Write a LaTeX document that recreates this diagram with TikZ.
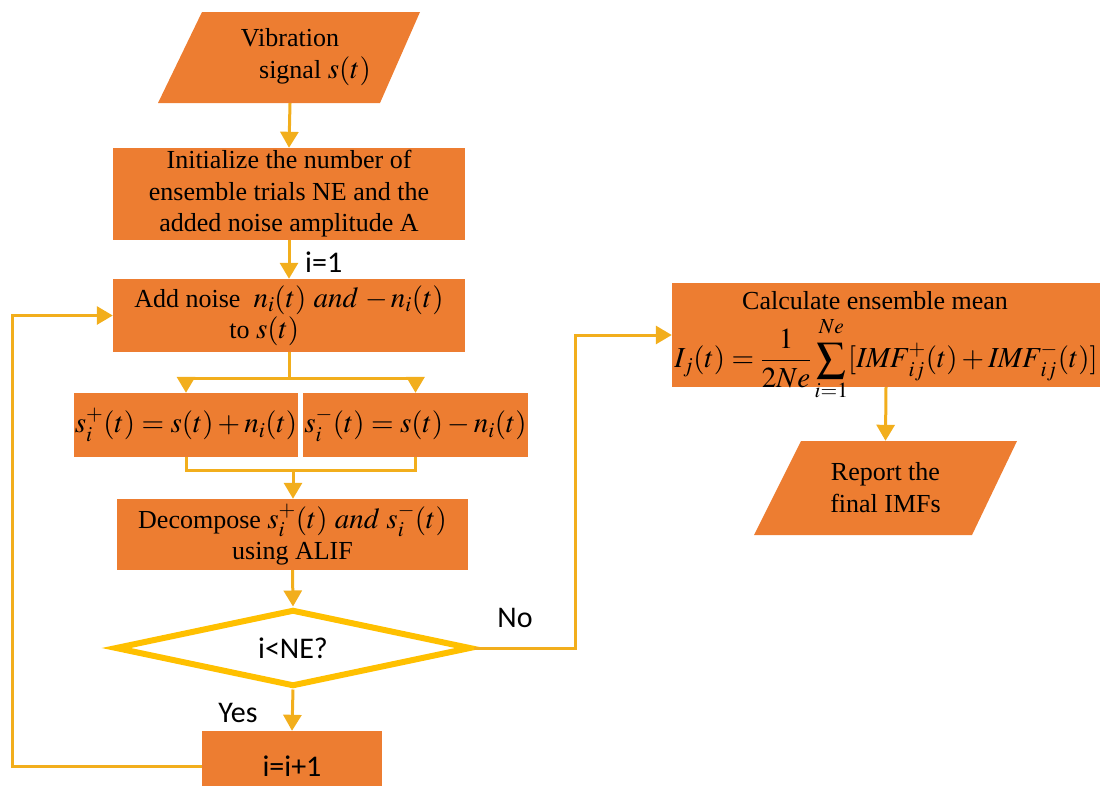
\documentclass[tikz,border=0pt]{standalone}
\usepackage{mathptmx}
\usepackage{fontspec}
\setmainfont{Liberation Serif}
\newfontfamily\labfont{Carlito}
\usetikzlibrary{arrows.meta,shapes.geometric}
\definecolor{boxorange}{HTML}{ED7D31}
\definecolor{lineorange}{HTML}{F2AE1C}
\definecolor{diagold}{HTML}{FFC000}
\newcommand\mth[1]{{\fontsize{29}{31}\selectfont$#1$}}
\begin{document}
\begin{tikzpicture}[x=1pt,y=-1pt,
  conn/.style={draw=lineorange, line width=3pt},
  arr/.style={conn, -{Triangle[width=18pt,length=16pt]}},
  box/.style={fill=boxorange, inner sep=0pt, align=center, font=\fontsize{26}{31.5}\selectfont},
  iotext/.style={inner sep=0pt, align=center, font=\fontsize{26}{32}\selectfont},
  txt/.style={inner sep=0pt, align=center, font=\fontsize{26}{31.5}\selectfont},
  lbl/.style={font=\labfont\fontsize{30}{36}\selectfont, inner sep=0pt},
  decision/.style={diamond, aspect=4.6, draw=diagold, line width=6pt, fill=white, inner sep=0pt,
    font=\labfont\fontsize{30}{36}\selectfont}
]
\useasboundingbox (0,0) rectangle (1101,785);

% input parallelogram
\fill[boxorange] (202,12) -- (420,12) -- (380,103) -- (158,103) -- cycle;
\node[iotext, minimum width=262pt, minimum height=91pt] (in) at (290,57.5)
  {Vibration\\\hspace*{50pt}signal \mth{s(t)}};

\node[box, minimum width=352pt, minimum height=92pt] (init) at (289,194)
  {Initialize the number of\\ensemble trials NE and the\\added noise amplitude A};

\node[box, minimum width=352pt, minimum height=73pt, align=left] (add) at (289,315.5)
  {Add noise \ \mth{n_i(t)\ \mathit{and}\ {-}\,n_i(t)}\\\hspace*{95pt}to \mth{s(t)}};

\node[box, minimum width=224pt, minimum height=64pt] (left) at (186,425)
  {\mth{s_i^{+}(t)=s(t)+n_i(t)}};
\node[box, minimum width=225pt, minimum height=64pt] (right) at (415.5,425)
  {\mth{s_i^{-}(t)=s(t)-n_i(t)}};

\node[box, minimum width=351pt, minimum height=71pt] (decomp) at (292.5,534.5)
  {Decompose \mth{s_i^{+}(t)\ \mathit{and}\ s_i^{-}(t)}\\using ALIF};

\node[decision, minimum width=356pt, minimum height=77pt] (dia) at (293,648) {i<NE?};

\node[fill=boxorange, inner sep=0pt, minimum width=180pt, minimum height=70pt,
  font=\labfont\fontsize{30}{36}\selectfont] (inc) at (292,766) {i=i+1};

\node[box, minimum width=428pt, minimum height=104pt] (calc) at (886,335) {};
\node[txt] (calct) at (875,301) {Calculate ensemble mean};
\node[txt] (calcf) at (886,359)
  {\mth{\displaystyle I_j(t)=\frac{1}{2Ne}\sum_{i=1}^{\raisebox{3pt}{$\scriptstyle Ne$}}[\mathit{IMF}_{ij}^{+}(t)+\mathit{IMF}_{ij}^{-}(t)]}};

% output parallelogram
\fill[boxorange] (801,441) -- (1017,441) -- (972,535) -- (754,535) -- cycle;
\node[iotext, minimum width=263pt, minimum height=94pt] (out) at (885.5,488)
  {Report the\\final IMFs};

% labels
\node[lbl, anchor=west] (i1) at (305,262) {i=1};
\node[lbl] (yes) at (238,713) {Yes};
\node[lbl] (no) at (515,618) {No};

% connectors
\draw[arr] (in.south) -- (init.north);
\draw[arr] (init.south) -- (add.north);
\coordinate (sp) at (289,378);
\draw[conn] (add.south) -- (sp);
\draw[arr] (sp) -| (left.north);
\draw[arr] (sp) -| (right.north);
\coordinate (mg) at (293,470);
\draw[conn] (left.south) |- (mg);
\draw[conn] (right.south) |- (mg);
\draw[arr] (mg) -- (mg |- decomp.north);
\draw[arr] (decomp.south) -- (dia.north);
\draw[arr] (dia.south) -- (inc.north);
\coordinate (lp) at (12,766);
\draw[arr] (inc.west) -- (lp) |- (add.west);
\coordinate (np) at (575,648);
\draw[arr] (dia.east) -- (np) |- (calc.west);
\draw[arr] (calc.south) -- (out.north);
\end{tikzpicture}
\end{document}
